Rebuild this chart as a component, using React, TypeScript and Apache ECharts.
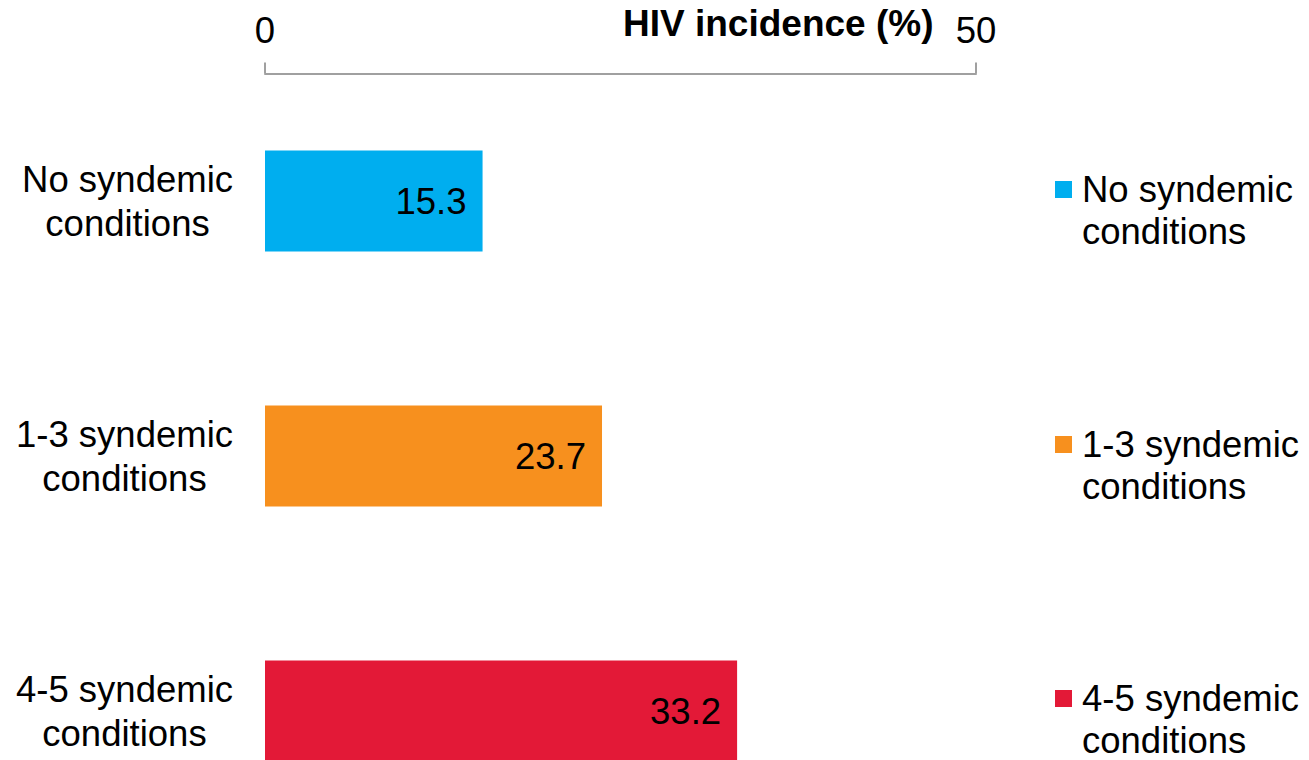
import React, { useEffect, useRef } from "react";
import * as echarts from "echarts";

const categories = ["No syndemic\nconditions", "1-3 syndemic\nconditions", "4-5 syndemic\nconditions"];
const values = [15.3, 23.7, 33.2];
const colors = ["#00AEEF", "#F7901E", "#E31937"];
const axisTicks = [0, 50];
const axisTitle = "HIV incidence (%)";

const FONT = "'Liberation Sans', Arial, sans-serif";
const FS = 36.5;

export default function App() {
  const ref = useRef<HTMLDivElement>(null);
  useEffect(() => {
    if (!ref.current) return;
    const chart = echarts.init(ref.current, null, { renderer: "svg" });
    const series = categories.map((name, i) => ({
      name,
      type: "bar",
      stack: "total",
      barWidth: 101,
      itemStyle: { color: colors[i] },
      data: values.map((v, j) => (j === i ? v : null)),
      label: {
        show: true,
        position: "insideRight",
        distance: 16,
        color: "#000",
        fontSize: FS,
        fontFamily: FONT,
      },
    }));
    const legendTops = [168.5, 423.5, 677.5];
    chart.setOption({
      animation: false,
      textStyle: { fontFamily: FONT },
      title: {
        text: axisTitle,
        left: 623,
        top: 5,
        padding: 0,
        textStyle: { fontSize: 37, fontWeight: "bold", color: "#000", fontFamily: FONT },
      },
      legend: categories.map((name, i) => ({
        data: [name],
        left: 1055,
        top: legendTops[i],
        icon: "path://M0,0L17,0L17,17L0,17Z M22,59L22,59",
        itemWidth: 22,
        itemHeight: 59,
        itemGap: 0,
        padding: 0,
        selectedMode: false,
        textStyle: {
          fontSize: FS,
          lineHeight: 42,
          color: "#000",
          fontFamily: FONT,
        },
      })),
      grid: { left: 265, top: 73.5, width: 711, height: 765 },
      xAxis: {
        type: "value",
        position: "top",
        min: axisTicks[0],
        max: axisTicks[1],
        interval: axisTicks[1] - axisTicks[0],
        axisLine: { show: true, lineStyle: { color: "#a0a0a0", width: 2 } },
        axisTick: { show: true, length: 11, lineStyle: { color: "#a0a0a0", width: 2 } },
        splitLine: { show: false },
        axisLabel: { fontSize: FS, color: "#000", margin: 25, fontFamily: FONT },
      },
      yAxis: {
        type: "category",
        inverse: true,
        data: categories,
        axisLine: { show: false },
        axisTick: { show: false },
        axisLabel: {
          color: "#000",
          margin: 32,
          align: "right",
          fontFamily: FONT,
          fontSize: FS,
          lineHeight: 44,
          formatter: (v: string) => v.split("\n").map((l) => `{c|${l}}`).join("\n"),
          rich: {
            c: { align: "center", fontSize: FS, lineHeight: 44, color: "#000", fontFamily: FONT },
          },
        },
      },
      series,
    });
    return () => chart.dispose();
  }, []);
  return (
    <div
      ref={ref}
      style={{ position: "fixed", left: 0, top: 0, width: 1309, height: 840, background: "#fff" }}
    />
  );
}
